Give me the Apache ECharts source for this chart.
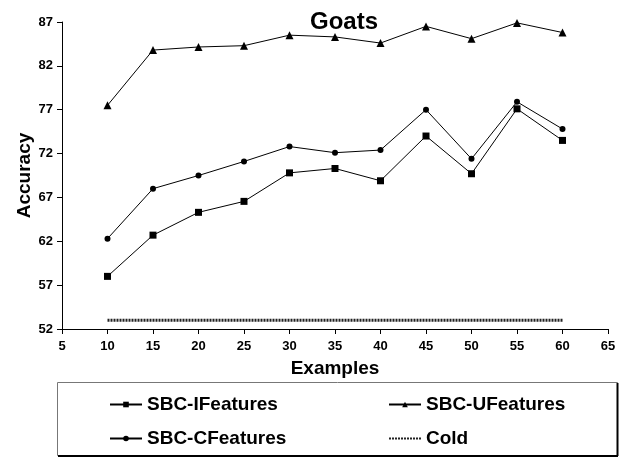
<!DOCTYPE html>
<html>
<head>
<meta charset="utf-8">
<script src="https://cdn.jsdelivr.net/npm/echarts@6/dist/echarts.min.js"></script>
<style>
  html, body { margin: 0; padding: 0; background: #fff; }
  #chart { width: 623px; height: 457px; }
</style>
</head>
<body>
<div id="chart"></div>
<script>
// Number of training examples
const examples = [10, 15, 20, 25, 30, 35, 40, 45, 50, 55, 60];

// Accuracy per method
const sbcIFeatures = [58.0, 62.7, 65.3, 66.55, 69.8, 70.3, 68.9, 74.0, 69.7, 77.1, 73.5];
const sbcUFeatures = [77.5, 83.8, 84.15, 84.3, 85.5, 85.3, 84.6, 86.5, 85.1, 86.9, 85.8];
const sbcCFeatures = [62.3, 68.0, 69.5, 71.1, 72.8, 72.1, 72.4, 77.0, 71.4, 77.9, 74.8];
const coldValues   = [53, 53, 53, 53, 53, 53, 53, 53, 53, 53, 53];

// Axis tick values
const xTicks = [5, 10, 15, 20, 25, 30, 35, 40, 45, 50, 55, 60, 65];
const yTicks = [52, 57, 62, 67, 72, 77, 82, 87];

const FONT = '"Liberation Sans", Arial, Helvetica, sans-serif';

function pairs(values) {
  return examples.map((x, i) => [x, values[i]]);
}

function markerSeries(name, values, symbol, size) {
  return {
    name: name,
    type: 'line',
    data: pairs(values),
    symbol: symbol,
    symbolSize: size,
    showAllSymbol: true,
    lineStyle: { color: '#000', width: 1 },
    itemStyle: { color: '#000' },
    emphasis: { disabled: true },
    z: 3
  };
}

const legendText = { fontFamily: FONT, fontSize: 19, fontWeight: 'bold', color: '#000' };

const chart = echarts.init(document.getElementById('chart'), null, { renderer: 'canvas' });

chart.setOption({
  animation: false,
  backgroundColor: '#fff',
  title: {
    text: 'Goats',
    left: 305,
    top: 5,
    textStyle: { fontFamily: FONT, fontSize: 24, fontWeight: 'bold', color: '#000' }
  },
  grid: { left: 62, right: 15, top: 22, bottom: 128, containLabel: false },
  xAxis: {
    type: 'value',
    min: xTicks[0],
    max: xTicks[xTicks.length - 1],
    interval: 5,
    name: 'Examples',
    nameLocation: 'middle',
    nameGap: 30,
    nameMoveOverlap: false,
    nameTextStyle: { fontFamily: FONT, fontSize: 19, fontWeight: 'bold', color: '#000' },
    axisLine: { lineStyle: { color: '#000', width: 1 } },
    axisTick: { show: true, inside: false, length: 5, lineStyle: { color: '#000' } },
    axisLabel: { margin: 11, fontFamily: FONT, fontSize: 13, fontWeight: 'bold', color: '#000' },
    splitLine: { show: false }
  },
  yAxis: {
    type: 'value',
    min: yTicks[0],
    max: yTicks[yTicks.length - 1],
    interval: 5,
    name: 'Accuracy',
    nameLocation: 'middle',
    nameGap: 28,
    nameMoveOverlap: false,
    nameTextStyle: { fontFamily: FONT, fontSize: 19, fontWeight: 'bold', color: '#000' },
    axisLine: { show: true, lineStyle: { color: '#000', width: 1 } },
    axisTick: { show: true, inside: false, length: 5, lineStyle: { color: '#000' } },
    axisLabel: { margin: 9, fontFamily: FONT, fontSize: 13, fontWeight: 'bold', color: '#000' },
    splitLine: { show: false }
  },
  legend: [
    {
      orient: 'vertical',
      left: 109,
      top: 395,
      padding: 0,
      itemWidth: 32,
      itemHeight: 7,
      itemGap: 15,
      data: ['SBC-IFeatures', 'SBC-CFeatures'],
      textStyle: legendText,
      selectedMode: false
    },
    {
      orient: 'vertical',
      left: 388,
      top: 395,
      padding: 0,
      itemWidth: 32,
      itemHeight: 7,
      itemGap: 15,
      data: ['SBC-UFeatures', { name: 'Cold', itemStyle: { opacity: 0 } }],
      textStyle: legendText,
      selectedMode: false
    }
  ],
  graphic: [
    // legend frame with a darker right/bottom edge
    { type: 'rect', shape: { x: 57.5, y: 382.5, width: 560, height: 73 },
      style: { fill: 'none', stroke: '#777', lineWidth: 1 }, z: 1 },
    { type: 'line', shape: { x1: 617.5, y1: 383, x2: 617.5, y2: 456 },
      style: { stroke: '#000', lineWidth: 2 }, z: 1 },
    { type: 'line', shape: { x1: 58, y1: 456, x2: 618, y2: 456 },
      style: { stroke: '#000', lineWidth: 2 }, z: 1 }
  ],
  series: [
    markerSeries('SBC-IFeatures', sbcIFeatures, 'rect', 7),
    markerSeries('SBC-UFeatures', sbcUFeatures, 'triangle', 8),
    markerSeries('SBC-CFeatures', sbcCFeatures, 'circle', 6),
    {
      name: 'Cold',
      type: 'line',
      data: pairs(coldValues),
      symbol: 'none',
      lineStyle: { color: '#222', width: 3, type: [2, 1] },
      itemStyle: { color: '#222' },
      emphasis: { disabled: true },
      z: 2
    }
  ]
});
</script>
</body>
</html>
